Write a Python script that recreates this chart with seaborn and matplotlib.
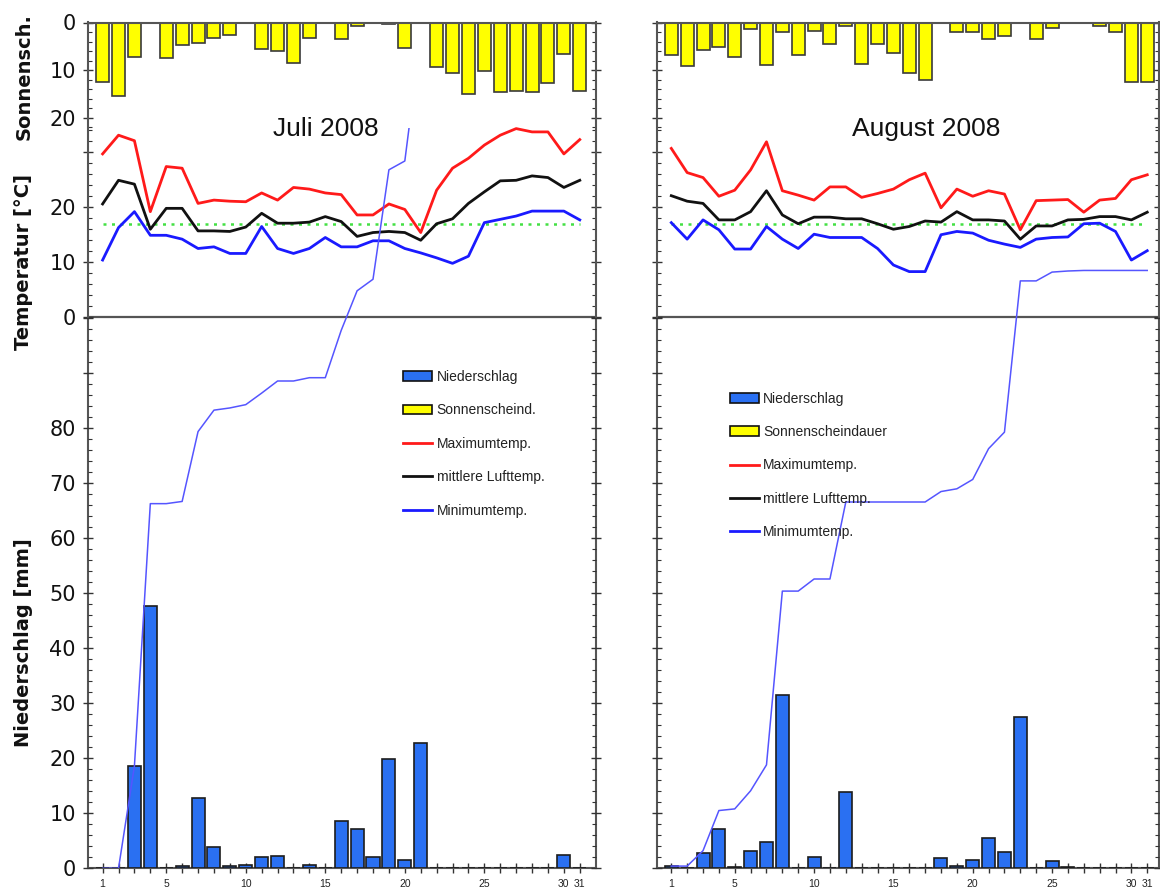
import matplotlib
matplotlib.use("Agg")
import matplotlib.pyplot as plt
import seaborn as sns
import numpy as np
from matplotlib.patches import Patch
from matplotlib.lines import Line2D
from matplotlib.ticker import FixedLocator, FixedFormatter, FuncFormatter

# ---------------- data ----------------
days = list(range(1, 32))
xtick_labels = [1, 5, 10, 15, 20, 25, 30, 31]

jul_precip = [0, 0, 18.6, 47.7, 0, 0.4, 12.7, 3.9, 0.4, 0.6, 2.1, 2.2, 0, 0.6, 0,
              8.6, 7.2, 2.1, 19.9, 1.6, 22.7, 0, 0, 0, 0, 0, 0, 0, 0, 2.4, 0]
jul_sun = [12.5, 15.4, 7.2, 0, 7.4, 4.8, 4.4, 3.2, 2.6, 0, 5.5, 6.0, 8.5, 3.2, 0,
           3.4, 0.7, 0.1, 0.3, 5.3, 0, 9.3, 10.6, 15.0, 10.2, 14.6, 14.4, 14.6, 12.7, 6.7, 14.4]
jul_tmax = [29.6, 33.0, 32.0, 19.1, 27.3, 27.0, 20.6, 21.2, 21.0, 20.9, 22.5, 21.2, 23.5, 23.2, 22.5,
            22.2, 18.5, 18.5, 20.5, 19.5, 15.3, 23.0, 27.0, 28.8, 31.2, 33.0, 34.2, 33.6, 33.6, 29.6, 32.2]
jul_tmean = [20.5, 24.8, 24.1, 15.9, 19.7, 19.7, 15.6, 15.6, 15.5, 16.3, 18.8, 17.0, 17.0, 17.2, 18.2,
             17.3, 14.6, 15.3, 15.5, 15.3, 13.9, 16.9, 17.8, 20.6, 22.7, 24.7, 24.8, 25.6, 25.3, 23.5, 24.8]
jul_tmin = [10.3, 16.2, 19.1, 14.8, 14.8, 14.1, 12.4, 12.7, 11.5, 11.5, 16.4, 12.4, 11.5, 12.4, 14.4,
            12.7, 12.7, 13.8, 13.8, 12.4, 11.6, 10.7, 9.7, 11.0, 17.1, 17.7, 18.3, 19.2, 19.2, 19.2, 17.6]
jul_cum_days = list(range(1, 22))
jul_cum = [0, 0, 18.6, 66.3, 66.3, 66.7, 79.4, 83.3, 83.7, 84.3, 86.4, 88.6, 88.6, 89.2, 89.2,
           97.8, 105.0, 107.1, 127.0, 128.6, 151.3]

aug_precip = [0.4, 0, 2.7, 7.2, 0.2, 3.2, 4.8, 31.6, 0, 2.0, 0, 13.9, 0, 0, 0,
              0, 0, 1.8, 0.4, 1.6, 5.6, 3.0, 27.5, 0, 1.3, 0.2, 0, 0, 0, 0, 0]
aug_sun = [6.8, 9.1, 5.8, 5.2, 7.3, 1.4, 8.9, 2.1, 6.8, 1.8, 4.5, 0.7, 8.7, 4.5, 6.4,
           10.6, 12.0, 0, 2.1, 2.1, 3.5, 2.8, 0, 3.5, 1.2, 0, 0, 0.7, 2.1, 12.5, 12.5]
aug_tmax = [30.6, 26.2, 25.3, 21.9, 23.0, 26.7, 31.8, 22.9, 22.1, 21.2, 23.6, 23.6, 21.7, 22.4, 23.2,
            24.9, 26.1, 19.8, 23.2, 21.9, 22.9, 22.3, 15.8, 21.1, 21.2, 21.3, 19.0, 21.2, 21.5, 24.9, 25.8]
aug_tmean = [22.0, 21.0, 20.6, 17.6, 17.6, 19.1, 22.9, 18.5, 16.9, 18.1, 18.1, 17.8, 17.8, 16.9, 15.9,
             16.4, 17.4, 17.2, 19.1, 17.6, 17.6, 17.4, 14.1, 16.5, 16.5, 17.6, 17.7, 18.2, 18.2, 17.6, 19.0]
aug_tmin = [17.1, 14.1, 17.6, 15.8, 12.3, 12.3, 16.4, 14.1, 12.4, 15.0, 14.4, 14.4, 14.4, 12.4, 9.4,
            8.2, 8.2, 14.9, 15.5, 15.2, 13.9, 13.2, 12.6, 14.1, 14.4, 14.5, 16.9, 17.0, 15.5, 10.3, 12.0]
aug_cum_days = list(range(1, 32))
aug_cum = [0.4, 0.4, 3.2, 10.5, 10.8, 14.1, 18.8, 50.4, 50.4, 52.6, 52.6, 66.6, 66.6, 66.6, 66.6,
           66.6, 66.6, 68.5, 69.0, 70.7, 76.3, 79.3, 106.8, 106.8, 108.4, 108.6, 108.7, 108.7, 108.7, 108.7, 108.7]

ref_temp = 16.8  # green dotted reference line

sun_major = [0, 10, 20]
sun_minor = [2, 4, 6, 8, 12, 14, 16, 18, 22]
temp_major = [0, 10, 20, 30]
temp_labels = ["0", "10", "20", ""]
temp_minor = [v for v in range(2, 35, 2) if v % 10]
prec_major = list(range(0, 101, 10))
prec_labels = [str(v) if v <= 80 else "" for v in prec_major]
prec_minor = [v for v in range(2, 101, 2) if v % 10]

legend_labels_jul = ["Niederschlag", "Sonnenscheind.", "Maximumtemp.", "mittlere Lufttemp.", "Minimumtemp."]
legend_labels_aug = ["Niederschlag", "Sonnenscheindauer", "Maximumtemp.", "mittlere Lufttemp.", "Minimumtemp."]

# ---------------- style ----------------
C_PREC = "#2a70f2"
C_SUN = "#ffff00"
C_MAX = "#ff1a1a"
C_MEAN = "#111111"
C_MIN = "#1a1aff"
C_CUM = "#5555ff"
C_REF = "#44e044"
C_AX = "#555555"

plt.rcParams["font.family"] = ["DejaVu Sans"]

W, H = 1160, 890
fig = plt.figure(figsize=(W / 100, H / 100), dpi=100)
fig.patch.set_facecolor("white")

TOP, BOT, PTOP = 22.5, 868.3, 127.7
T0, TSC, SSC, PSC = 316.7, 5.5, 4.75, 5.5


def fax(l, r, t, b, name):
    return fig.add_axes([l / W, 1 - b / H, (r - l) / W, (b - t) / H], label=name)


def yticks(ax, majors, labels, minors, show):
    ax.yaxis.set_major_locator(FixedLocator(majors))
    ax.yaxis.set_major_formatter(FixedFormatter(labels))
    ax.yaxis.set_minor_locator(FixedLocator(minors))
    ax.tick_params(axis="y", which="major", direction="inout", length=7, width=1.0,
                   color="#333333", left=True, right=True, labelleft=show,
                   labelright=False, labelsize=15, pad=5, labelcolor="#111111")
    ax.tick_params(axis="y", which="minor", direction="in", length=3, width=0.8,
                   color="#333333", left=True, right=True)


panels = [
    dict(l=87.5, r=596.0, xlim=(0.05, 32.02), prec=jul_precip, sun=jul_sun, tmax=jul_tmax,
         tmean=jul_tmean, tmin=jul_tmin, cdays=jul_cum_days, cum=jul_cum, title="Juli 2008",
         tpos=(326, 129), leg=legend_labels_jul, lpos=(403.3, 370.0), show=True),
    dict(l=656.7, r=1158.5, xlim=(0.08, 31.71), prec=aug_precip, sun=aug_sun, tmax=aug_tmax,
         tmean=aug_tmean, tmin=aug_tmin, cdays=aug_cum_days, cum=aug_cum, title="August 2008",
         tpos=(926, 129), leg=legend_labels_aug, lpos=(730.0, 391.5), show=False),
]

for i, p in enumerate(panels):
    ax_s = fax(p["l"], p["r"], TOP, BOT, f"sun{i}")
    ax_t = fax(p["l"], p["r"], TOP, BOT, f"temp{i}")
    ax_p = fax(p["l"], p["r"], PTOP, BOT, f"prec{i}")
    ax_s.set_facecolor("white")
    ax_t.set_facecolor("none")
    ax_p.set_facecolor("none")

    # sunshine bars hanging from the top
    sns.barplot(x=days, y=p["sun"], ax=ax_s, native_scale=True, orient="x", color=C_SUN,
                saturation=1, edgecolor="#3a3a3a", linewidth=1.2, width=0.82, errorbar=None)
    ax_s.set_ylim((BOT - TOP) / SSC, 0)

    # temperatures
    ax_t.axhline(0, color=C_AX, lw=1.6, zorder=1)
    ax_t.hlines([ref_temp], days[0], days[-1], colors=C_REF, linestyles=(0, (1.2, 2.2)),
                linewidth=1.8, zorder=2)
    sns.lineplot(x=days, y=p["tmax"], ax=ax_t, color=C_MAX, linewidth=2.0)
    sns.lineplot(x=days, y=p["tmean"], ax=ax_t, color=C_MEAN, linewidth=2.0)
    sns.lineplot(x=days, y=p["tmin"], ax=ax_t, color=C_MIN, linewidth=2.0)
    ax_t.set_ylim(-(BOT - T0) / TSC, (T0 - TOP) / TSC)

    # precipitation
    sns.barplot(x=days, y=p["prec"], ax=ax_p, native_scale=True, orient="x", color=C_PREC,
                saturation=1, edgecolor="#1c1c1c", linewidth=1.2, width=0.82, errorbar=None)
    sns.lineplot(x=p["cdays"], y=p["cum"], ax=ax_p, color=C_CUM, linewidth=1.1)
    ax_p.set_ylim(0, (BOT - PTOP) / PSC)

    for ax in (ax_s, ax_t, ax_p):
        ax.set_xlim(*p["xlim"])
        ax.set_xlabel("")
        ax.set_ylabel("")
    for ax in (ax_s, ax_p):
        for sp in ax.spines.values():
            sp.set_visible(False)
        ax.tick_params(axis="x", bottom=False, labelbottom=False, top=False)
    for sp in ax_t.spines.values():
        sp.set_color(C_AX)
        sp.set_linewidth(1.5)

    yticks(ax_s, sun_major, [str(v) for v in sun_major], sun_minor, p["show"])
    yticks(ax_t, temp_major, temp_labels, temp_minor, p["show"])
    yticks(ax_p, prec_major, prec_labels, prec_minor, p["show"])

    ax_t.xaxis.set_major_locator(FixedLocator(days))
    ax_t.xaxis.set_major_formatter(
        FuncFormatter(lambda v, pos: str(int(round(v))) if int(round(v)) in xtick_labels else ""))
    ax_t.tick_params(axis="x", which="major", direction="inout", length=7, width=1.0,
                     color="#333333", bottom=True, top=False, labelsize=7.5, pad=4,
                     labelfontfamily="Liberation Sans", labelcolor="#222222")

    fig.text(p["tpos"][0] / W, 1 - p["tpos"][1] / H, p["title"], ha="center", va="center",
             fontsize=19, color="#111111", family=["Liberation Sans", "DejaVu Sans"])

    handles = [Patch(facecolor=C_PREC, edgecolor="#111111", linewidth=1.2),
               Patch(facecolor=C_SUN, edgecolor="#111111", linewidth=1.2),
               Line2D([], [], color=C_MAX, lw=2),
               Line2D([], [], color=C_MEAN, lw=2),
               Line2D([], [], color=C_MIN, lw=2)]
    fig.legend(handles, p["leg"], loc="upper left",
               bbox_to_anchor=(p["lpos"][0] / W, 1 - p["lpos"][1] / H),
               bbox_transform=fig.transFigure, frameon=False,
               prop={"family": "Liberation Sans", "size": 10}, handlelength=2.1,
               handleheight=0.7, handletextpad=0.3, labelspacing=1.4, borderpad=0,
               borderaxespad=0, labelcolor="#222222")

for txt, yc in (("Sonnensch.", 77), ("Temperatur [°C]", 262), ("Niederschlag [mm]", 643)):
    fig.text(24 / W, 1 - yc / H, txt, rotation=90, ha="center", va="center",
             fontsize=14, fontweight="bold", color="#111111")

fig.savefig("out.png", dpi=100, facecolor="white")
